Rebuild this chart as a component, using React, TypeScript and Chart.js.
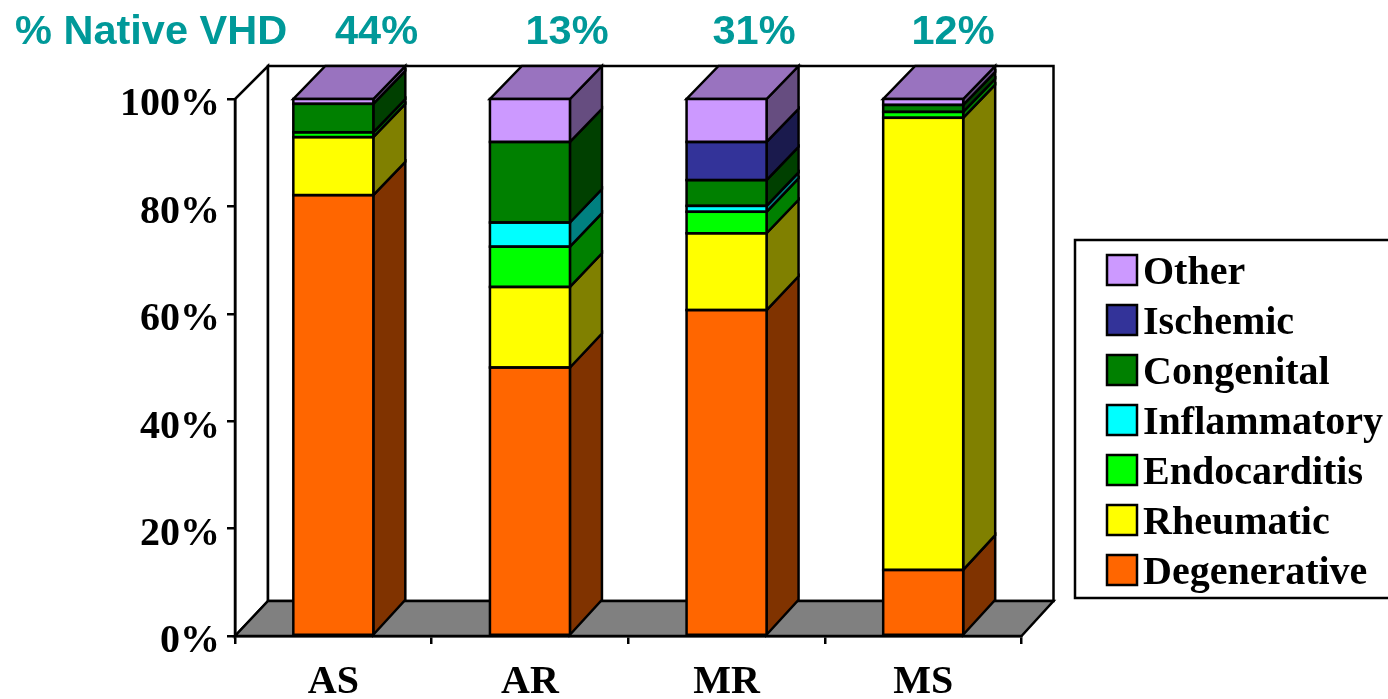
import React, { useEffect, useRef } from "react";
import { Chart, registerables } from "chart.js";

Chart.register(...registerables);

const valves = ["AS", "AR", "MR", "MS"];
const nativeShare = ["44%", "13%", "31%", "12%"];
const shareHeading = "% Native VHD";

const degenerative = [82.1, 50, 60.7, 12.3];
const rheumatic = [10.8, 15, 14.3, 84.2];
const endocarditis = [0.9, 7.5, 4, 1.1];
const inflammatory = [0, 4.5, 1.1, 0];
const congenital = [5.3, 15, 4.8, 1.3];
const ischemic = [0, 0, 7.1, 0];
const other = [0.9, 8, 8, 1.1];

const seriesNames = ["Degenerative", "Rheumatic", "Endocarditis", "Inflammatory", "Congenital", "Ischemic", "Other"];
const seriesValues = [degenerative, rheumatic, endocarditis, inflammatory, congenital, ischemic, other];
const frontColors = ["#FF6600", "#FFFF00", "#00FF00", "#00FFFF", "#008000", "#333399", "#CC99FF"];
const sideColors = ["#803300", "#808000", "#008000", "#008080", "#004000", "#1A1A4D", "#664D80"];
const topColor = "#9973BF";
const floorColor = "#808080";
const teal = "#009999";

const DEPTH_X = 32;
const WALL_LEFT_X = 33;
const LINE = 2.5;
const SERIF = "'Liberation Serif', serif";
const SANS = "'Liberation Sans', sans-serif";
const shareCentres = [376.5, 567, 754, 953];
const LEGEND = { left: 1074, top: 240, bottom: 598, swatch: 30, padding: 10, firstRow: 254, swatchLeft: 1107, swatchRise: 4 };

function depthY(y: number, area: any) {
  return 33 + (2 * (y - area.top)) / (area.bottom - area.top);
}

function poly(ctx: CanvasRenderingContext2D, pts: number[][], fill: string, stroke = "#000", lw = LINE) {
  ctx.beginPath();
  pts.forEach((p, i) => (i ? ctx.lineTo(p[0], p[1]) : ctx.moveTo(p[0], p[1])));
  ctx.closePath();
  ctx.fillStyle = fill;
  ctx.fill();
  ctx.strokeStyle = stroke;
  ctx.lineWidth = lw;
  ctx.lineJoin = "miter";
  ctx.stroke();
}

const box3d = {
  id: "box3d",
  afterLayout(chart: any) {
    const lg = chart.legend;
    lg.left = LEGEND.swatchLeft - LEGEND.padding;
    lg.right = chart.width;
    lg.width = lg.right - lg.left;
    lg.top = LEGEND.firstRow - LEGEND.padding;
    lg.bottom = chart.height;
    lg.height = lg.bottom - lg.top;
  },
  beforeDraw(chart: any) {
    const { ctx, chartArea: a } = chart;
    const dTop = depthY(a.top, a);
    const dBot = depthY(a.bottom, a);
    const wallX = a.left + WALL_LEFT_X;
    const backR = a.right + DEPTH_X;
    ctx.save();
    ctx.fillStyle = "#fff";
    ctx.fillRect(0, 0, chart.width, chart.height);
    poly(ctx, [[a.left, a.bottom], [wallX, a.bottom - dBot], [wallX, a.top - dTop], [a.left, a.top]], "#fff");
    poly(ctx, [[wallX, a.top - dTop], [backR, a.top - dTop], [backR, a.bottom - dBot], [wallX, a.bottom - dBot]], "#fff");
    poly(ctx, [[a.left, a.bottom], [a.right, a.bottom], [backR, a.bottom - dBot], [wallX, a.bottom - dBot]], floorColor);
    // heading row
    ctx.fillStyle = teal;
    ctx.font = `bold 41.5px ${SANS}`;
    ctx.textBaseline = "alphabetic";
    ctx.textAlign = "left";
    ctx.fillText(shareHeading, 15, 44);
    ctx.textAlign = "center";
    nativeShare.forEach((s, i) => ctx.fillText(s, shareCentres[i], 44));
    // legend frame
    ctx.strokeStyle = "#000";
    ctx.lineWidth = LINE;
    ctx.strokeRect(LEGEND.left + 1, LEGEND.top, 400, LEGEND.bottom - LEGEND.top);
    ctx.restore();
  },
  beforeDatasetsDraw(chart: any) {
    const { ctx, chartArea: a } = chart;
    ctx.save();
    seriesValues.forEach((vals, d) => {
      const meta = chart.getDatasetMeta(d);
      meta.data.forEach((bar: any, j: number) => {
        if (!vals[j]) return;
        const right = bar.x + bar.width / 2;
        const left = bar.x - bar.width / 2;
        poly(ctx, [
          [right, bar.base],
          [right + DEPTH_X, bar.base - depthY(bar.base, a)],
          [right + DEPTH_X, bar.y - depthY(bar.y, a)],
          [right, bar.y],
        ], sideColors[d]);
        const isTop = seriesValues.slice(d + 1).every((v) => !v[j]);
        if (isTop) {
          const dt = depthY(bar.y, a);
          poly(ctx, [[left, bar.y], [right, bar.y], [right + DEPTH_X, bar.y - dt], [left + DEPTH_X, bar.y - dt]], topColor);
        }
      });
    });
    ctx.restore();
  },
  afterDatasetsDraw(chart: any) {
    const { ctx } = chart;
    ctx.save();
    ctx.strokeStyle = "#000";
    ctx.lineWidth = LINE;
    seriesValues.forEach((vals, d) => {
      chart.getDatasetMeta(d).data.forEach((bar: any, j: number) => {
        if (!vals[j]) return;
        ctx.strokeRect(bar.x - bar.width / 2, bar.y, bar.width, bar.base - bar.y);
      });
    });
    ctx.restore();
  },
  afterDraw(chart: any) {
    const { ctx } = chart;
    const items = chart.legend.legendItems;
    ctx.save();
    chart.legend.legendHitBoxes.forEach((hb: any, i: number) => {
      const y = hb.top + (hb.height - LEGEND.swatch) / 2 - LEGEND.swatchRise;
      ctx.clearRect(hb.left - 2, hb.top + hb.height / 2 - 10, 20, 20);
      ctx.fillStyle = items[i].fillStyle;
      ctx.fillRect(hb.left, y, LEGEND.swatch, LEGEND.swatch);
      ctx.strokeStyle = "#000";
      ctx.lineWidth = LINE;
      ctx.strokeRect(hb.left, y, LEGEND.swatch, LEGEND.swatch);
    });
    ctx.restore();
  },
};

export default function App() {
  const ref = useRef<HTMLCanvasElement>(null);
  useEffect(() => {
    const chart = new Chart(ref.current as HTMLCanvasElement, {
      type: "bar",
      data: {
        labels: valves,
        datasets: seriesNames.map((name, i) => ({
          label: name,
          data: seriesValues[i],
          backgroundColor: frontColors[i],
          borderWidth: 0,
          inflateAmount: 0,
          barThickness: 80,
        })),
      },
      options: {
        animation: false,
        responsive: false,
        layout: { padding: { top: 99, right: 366.5, left: 0, bottom: 0 } },
        scales: {
          x: {
            stacked: true,
            afterFit: (s: any) => { s.height = 63; },
            border: { display: true, color: "#000", width: LINE },
            grid: { color: "#000", lineWidth: LINE, drawOnChartArea: false, tickLength: 8 },
            ticks: { color: "#000", maxRotation: 0, padding: 15, font: { family: SERIF, weight: "bold", size: 40 } },
          },
          y: {
            stacked: true,
            min: 0,
            max: 100,
            afterFit: (s: any) => { s.width = 235; },
            border: { display: true, color: "#000", width: LINE },
            grid: { color: "#000", lineWidth: LINE, drawOnChartArea: false, tickLength: 8 },
            ticks: {
              stepSize: 20,
              color: "#000",
              padding: 7,
              labelOffset: 6,
              callback: (v: any) => `${v}%`,
              font: { family: SERIF, weight: "bold", size: 40 },
            },
          },
        },
        plugins: {
          tooltip: { enabled: false },
          legend: {
            position: "chartArea",
            align: "start",
            reverse: true,
            labels: {
              color: "#000",
              boxWidth: 16,
              boxHeight: 16,
              padding: LEGEND.padding,
              font: { family: SERIF, weight: "bold", size: 40 },
            },
          },
        },
      } as any,
      plugins: [box3d],
    });
    return () => chart.destroy();
  }, []);
  return (
    <canvas
      ref={ref}
      width={1388}
      height={699}
      style={{ position: "fixed", left: 0, top: 0, display: "block", width: 1388, height: 699 }}
    />
  );
}
